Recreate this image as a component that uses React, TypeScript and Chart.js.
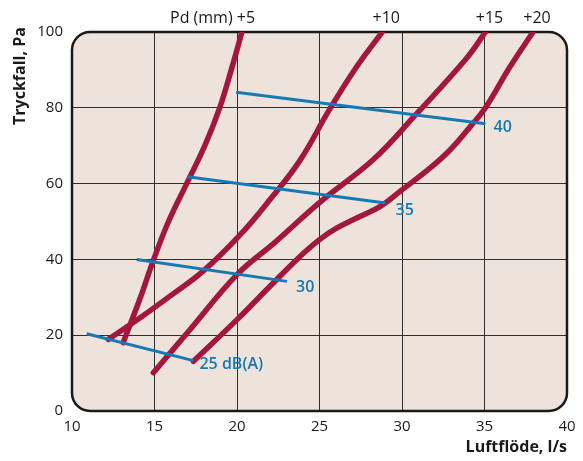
import React, { useEffect, useRef } from "react";
import { Chart, registerables } from "chart.js";

Chart.register(...registerables);

// Axis ticks
const xTicks = [10, 15, 20, 25, 30, 35, 40];
const yTicks = [0, 20, 40, 60, 80, 100];

// Pd curves (mm)
const pdLabels = ["+5", "+10", "+15", "+20"];
const pd5X = [13.1, 14.15, 14.95, 15.85, 16.95, 18.05, 18.95, 19.65, 20.3];
const pd5Y = [18, 30, 40, 50, 60, 70, 80, 90, 100];
const pd10X = [12.2, 14.13, 16.0, 18.0, 20.3, 22.0, 23.8, 25.6, 27.2, 28.8];
const pd10Y = [18.9, 24.6, 30.5, 37.1, 47, 55.8, 66, 79.5, 90.5, 100];
const pd15X = [14.93, 17.16, 20, 22.3, 25.0, 28.28, 30.9, 33.9, 35.06];
const pd15Y = [10.1, 21.5, 36, 44.5, 55, 66.4, 78.5, 93, 100];
const pd20X = [17.36, 20, 22.0, 23.63, 25.0, 26.06, 27.48, 28.69, 29.9, 31.73, 32.94, 34.15, 35.06, 36.5, 37.94];
const pd20Y = [13.1, 24.1, 32.9, 40, 45.2, 48.3, 51.4, 54, 58, 64.2, 69, 75.1, 80, 90.5, 100];

// Sound level lines dB(A): start and end points
const dbLabels = ["25 dB(A)", "30", "35", "40"];
const dbStartX = [10.89, 13.92, 17.0, 19.95];
const dbStartY = [20.4, 40, 61.8, 84.1];
const dbEndX = [17.36, 23.03, 29.0, 35.06];
const dbEndY = [13.3, 34.2, 54.9, 75.8];

const RED = "#a3173f";
const BLUE = "#1679b5";
const BG = "#ede3da";
const FONT = "'Open Sans', sans-serif";

const toPts = (xs: number[], ys: number[]) => xs.map((x, i) => ({ x, y: ys[i] }));

function roundRect(ctx: CanvasRenderingContext2D, l: number, t: number, r: number, b: number, rad: number) {
  ctx.beginPath();
  ctx.moveTo(l + rad, t);
  ctx.lineTo(r - rad, t);
  ctx.arcTo(r, t, r, t + rad, rad);
  ctx.lineTo(r, b - rad);
  ctx.arcTo(r, b, r - rad, b, rad);
  ctx.lineTo(l + rad, b);
  ctx.arcTo(l, b, l, b - rad, rad);
  ctx.lineTo(l, t + rad);
  ctx.arcTo(l, t, l + rad, t, rad);
  ctx.closePath();
}

export default function App() {
  const ref = useRef<HTMLCanvasElement>(null);

  useEffect(() => {
    if (!ref.current) return;
    const pdX = [pd5X, pd10X, pd15X, pd20X];
    const pdY = [pd5Y, pd10Y, pd15Y, pd20Y];

    const blueSets = dbLabels.map((lab, i) => ({
      label: lab,
      data: [
        { x: dbStartX[i], y: dbStartY[i] },
        { x: dbEndX[i], y: dbEndY[i] },
      ],
      showLine: true,
      borderColor: BLUE,
      borderWidth: 3,
      pointRadius: 0,
      tension: 0,
    }));
    const redSets = pdLabels.map((lab, i) => ({
      label: lab,
      data: toPts(pdX[i], pdY[i]),
      showLine: true,
      borderColor: RED,
      borderWidth: 5.5,
      borderCapStyle: "round" as const,
      borderJoinStyle: "round" as const,
      pointRadius: 0,
      tension: 0.4,
    }));

    const framePlugin = {
      id: "frame",
      beforeDraw(chart: any) {
        const { ctx, chartArea: a } = chart;
        ctx.save();
        roundRect(ctx, a.left, a.top, a.right, a.bottom, 18);
        ctx.fillStyle = BG;
        ctx.fill();
        ctx.restore();
      },
      beforeDatasetsDraw(chart: any) {
        const { ctx, chartArea: a } = chart;
        ctx.save();
        roundRect(ctx, a.left, a.top, a.right, a.bottom, 18);
        ctx.lineWidth = 2.5;
        ctx.strokeStyle = "#1a1a1a";
        ctx.stroke();
        ctx.restore();
      },
      afterDraw(chart: any) {
        const { ctx, chartArea: a } = chart;
        const xs = chart.scales.x;
        const ys = chart.scales.y;
        ctx.save();
        ctx.fillStyle = "#1a1a1a";
        ctx.textBaseline = "middle";
        // Pd labels on top
        ctx.font = `16px ${FONT}`;
        ctx.textAlign = "center";
        const tops = [pd5X, pd10X, pd15X, pd20X].map((arr) => arr[arr.length - 1]);
        tops.forEach((tx, i) => {
          ctx.fillText(pdLabels[i], xs.getPixelForValue(tx) + 4, a.top - 14);
        });
        const p5w = ctx.measureText(pdLabels[0]).width;
        ctx.textAlign = "right";
        ctx.fillText("Pd (mm) ", xs.getPixelForValue(tops[0]) + 4 - p5w / 2, a.top - 14);
        // axis titles
        ctx.font = `bold 16px ${FONT}`;
        ctx.textAlign = "right";
        ctx.fillText("Luftflöde, l/s", a.right, a.bottom + 36);
        ctx.save();
        ctx.translate(20, 76);
        ctx.rotate(-Math.PI / 2);
        ctx.textAlign = "center";
        ctx.fillText("Tryckfall, Pa", 0, 0);
        ctx.restore();
        // dB labels
        ctx.fillStyle = BLUE;
        ctx.font = `600 16px ${FONT}`;
        ctx.textAlign = "left";
        const off = [
          [6, 4],
          [9, 6],
          [10, 8],
          [8, 4],
        ];
        dbLabels.forEach((lab, i) => {
          ctx.fillText(
            lab,
            xs.getPixelForValue(dbEndX[i]) + off[i][0],
            ys.getPixelForValue(dbEndY[i]) + off[i][1]
          );
        });
        ctx.restore();
      },
    };

    const edgeColor = (ctx: any, min: number, max: number) => {
      const v = ctx.tick ? ctx.tick.value : null;
      return v === min || v === max ? "rgba(0,0,0,0)" : "#2e2e2e";
    };

    const chart = new Chart(ref.current, {
      type: "scatter",
      data: { datasets: [...blueSets, ...redSets] as any },
      options: {
        animation: false,
        responsive: true,
        maintainAspectRatio: false,
        layout: { padding: { top: 32, right: 16, left: 0, bottom: 0 } },
        plugins: { legend: { display: false }, tooltip: { enabled: false } },
        scales: {
          x: {
            type: "linear",
            min: xTicks[0],
            max: xTicks[xTicks.length - 1],
            afterBuildTicks: (s: any) => {
              s.ticks = xTicks.map((v) => ({ value: v }));
            },
            afterFit: (s: any) => {
              s.height = 50;
            },
            border: { display: false },
            grid: {
              color: (c: any) => edgeColor(c, 10, 40),
              lineWidth: 1,
              drawTicks: false,
            },
            ticks: {
              padding: 7,
              color: "#1a1a1a",
              font: { family: FONT, size: 15 },
              maxRotation: 0,
            },
          },
          y: {
            type: "linear",
            min: yTicks[0],
            max: yTicks[yTicks.length - 1],
            afterBuildTicks: (s: any) => {
              s.ticks = yTicks.map((v) => ({ value: v }));
            },
            afterFit: (s: any) => {
              s.width = 72;
            },
            border: { display: false },
            grid: {
              color: (c: any) => edgeColor(c, 0, 100),
              lineWidth: 1,
              drawTicks: false,
            },
            ticks: {
              padding: 9,
              color: "#1a1a1a",
              font: { family: FONT, size: 15 },
            },
          },
        },
      },
      plugins: [framePlugin],
    });
    return () => chart.destroy();
  }, []);

  return (
    <div style={{ position: "fixed", left: 0, top: 0, width: 583, height: 461, background: "#fff" }}>
      <canvas ref={ref} />
    </div>
  );
}
